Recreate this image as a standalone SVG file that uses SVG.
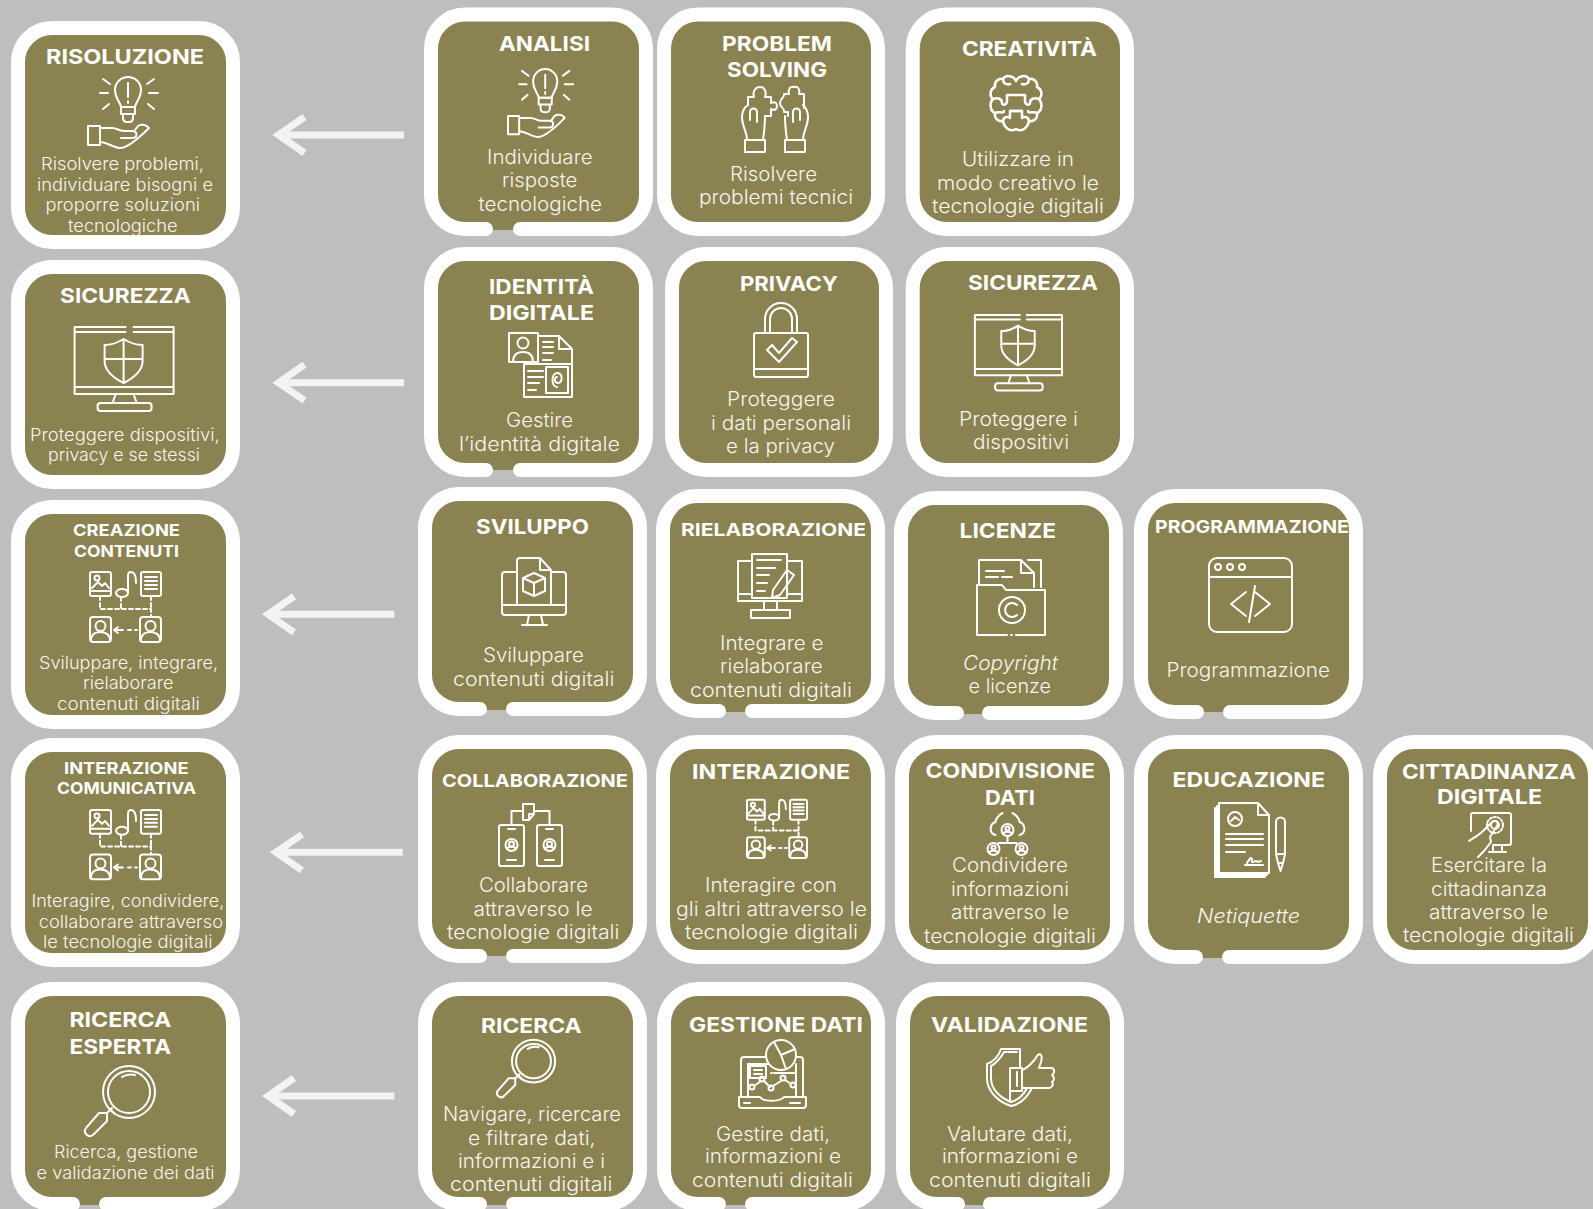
<svg xmlns="http://www.w3.org/2000/svg" width="1593" height="1209" viewBox="0 0 1593 1209">
<style>
.card{fill:#8a8250}
.ring{fill:none;stroke:#fff;stroke-width:14;stroke-linecap:round}
.t{font-family:"Inter","Liberation Sans",sans-serif;font-weight:700;font-size:20.5px;fill:#fff}
.ts{font-size:17.5px}
.tx{font-size:16px}
.b{font-family:"Inter","Liberation Sans",sans-serif;font-weight:300;font-size:19.5px;fill:#f6f4ec}
.bs{font-size:17.5px}
.it{font-style:italic}
.b:not(.bs),.t:not(.tx){transform:translateY(.7px)}
.ic{fill:none;stroke:#fff;stroke-width:2;stroke-linecap:round;stroke-linejoin:round}
.ic *{vector-effect:non-scaling-stroke}
.ar{stroke:#f3f3f3;stroke-width:7;fill:none;marker-end:url(#chev)}
</style>
<defs>
<marker id="chev" markerUnits="userSpaceOnUse" viewBox="0 0 44 44" markerWidth="44" markerHeight="44" refX="32" refY="22" orient="auto"><path d="M6 4L32 22L6 40" fill="none" stroke="#f3f3f3" stroke-width="7"/></marker>
<g id="i-bulb" class="ic"><path d="M33 31C32 25 27 23 27 14A13 13 0 0 1 53 14C53 23 48 25 47 31Z"/><path d="M33 31H47V38H33ZM35 38H45V42Q45 46 41 46H39Q35 46 35 42Z"/><path d="M40 7V21M40 25V27M12 17H20M61 17H70M15 3L22 8M66 3L59 8M15 33L21 28M66 33L60 28"/><path d="M0 50H12V69H0ZM12 52H24C29 52 31 55 36 55H44C50 55 50 62 44 62H33M12 66C18 66 27 72 32 72C38 72 50 63 61 52C58 48 53 48 50 50L47 54"/></g>
<g id="i-puzzle" class="ic"><path d="M3 54H23V66H3ZM5 54C5 46 0 40 0 31C0 25 3 21 6 19M21 54C22 46 23 40 23 30M8 34V26A3.500 3.500 0 0 1 15 26V36"/><path d="M6 19V11H12C10 5 14 1 18 1C22 1 25 5 23 11H29V17C33 15 35 17 35 20C35 23 33 25 29 23V30H23"/><path d="M43 54H63V66H43ZM61 54C61 46 66 40 66 31C66 25 63 21 61 19M45 54C44 46 43 40 43 30M51 36V26A3.500 3.500 0 0 1 58 26V34"/><path d="M52 1C48 0 46 3 47 8H42C43 12 38 12 38 17C38 22 43 22 42 26H46V30M52 1C56 0 58 3 57 8H62V22"/></g>
<g id="i-brainh"><path d="M26 6C24 1 16-1 13 4C8 3 4 7 5 12C0 14-1 21 3 24C-1 28 0 36 5 38C4 43 8 47 13 46C14 52 20 58 26 54"/><path d="M13 4C13 9 17 10 20 9M3 24C8 22 12 24 12 28C12 31 17 30 17 26V20H26M5 38C9 36 14 39 14 36M13 46C13 42 18 41 20 43V36H32"/></g>
<g id="i-brain" class="ic" style="stroke-width:2.5"><use href="#i-brainh"/><use href="#i-brainh" transform="translate(52 0) scale(-1 1)"/></g>
<g id="i-mon" class="ic"><path d="M60 1H100V68H1V1H52"/><path d="M1 6H52M60 6H100M1 61H100M42 68L39 77M60 68L63 77"/><rect x="24" y="77" width="54" height="8" rx="3"/><path d="M50 13C42 18 36 19 31 19V35C31 45 40 52 50 57C60 52 69 45 69 35V19C64 19 58 18 50 13ZM50 13V57M31 33H69"/></g>
<g id="i-id" class="ic"><rect width="29" height="29"/><circle cx="14" cy="10" r="5.500"/><path d="M4 29C4 21 9 19 14 19C19 19 24 21 24 29M29 3H50L63 16V30M50 3V16H63M34 9H44M34 14H44M34 20H44M34 27H42"/><path d="M15 31V64H63V31H15"/><rect x="37" y="34" width="22" height="26"/><path d="M48 54C42 54 42 40 48 40C54 40 54 50 49 50C45 50 45 44 48 44M19 38H34M19 44H34M19 50H30M19 57H27"/></g>
<g id="i-lock" class="ic"><path d="M11 30V16A16 16 0 0 1 43 16V30M16 30V16A11 11 0 0 1 38 16V30"/><rect y="30" width="54" height="44" rx="2"/><path d="M0 66H54M13 47L25 59L43 39L38 35L25 50L18 42Z"/></g>
<g id="i-cube" class="ic"><path d="M15 14H3A3 3 0 0 0 0 17V54A3 3 0 0 0 3 57H61A3 3 0 0 0 64 54V17A3 3 0 0 0 61 14H49M0 47H64M15 47V3A3 3 0 0 1 18 0H38L49 12V47M38 0V12H49M32 15L21 20V33L32 38L43 33V20ZM21 20L32 25L43 20M32 25V38M27 57L25 67M39 57L41 67M20 67H45"/></g>
<g id="i-edit" class="ic"><path d="M17 7H3V47H67V7H52M3 40H17M52 40H67"/><rect x="17" width="35" height="44"/><path d="M22 6H46M22 14H40M22 21H34M22 29H32M22 37H30M38 36L52 16L59 21L45 41L37 44ZM29 47V56M42 47V56"/><rect x="16" y="56" width="39" height="8"/></g>
<g id="i-folder" class="ic"><path d="M3 25V1H45L58 14V28M45 1V14H58M52 1H65V28M10 12H28M10 18H22M26 18H36"/><path d="M31 76H1V26H26L30 31H69V76H40M35 76H36"/><circle cx="36" cy="51" r="13"/><path d="M41 46A7 7 0 1 0 41 56"/></g>
<g id="i-code" class="ic"><rect x="1" y="1" width="83" height="74" rx="8"/><path d="M1 20H84M38 35L23 47L38 59M47 35L62 47L47 59M47 29L41 65"/><circle cx="10" cy="10" r="3"/><circle cx="22" cy="10" r="3"/><circle cx="34" cy="10" r="3"/></g>
<g id="i-flow" class="ic"><rect y="1" width="21" height="24" rx="2"/><path d="M0 20H21M2 17L8 11L12 15L15 12L19 17"/><circle cx="7" cy="7" r="2.500"/><ellipse cx="32" cy="22" rx="6" ry="4"/><path d="M38 21V5C38 1 40 1 41 1C45 1 46 6 46 12"/><rect x="51" y="1" width="20" height="24" rx="2"/><path d="M55 6H67M55 10H67M55 14H67M55 18H67"/><path stroke-dasharray="4 3" d="M10 25V38H61V46M31 26V38M61 25V38"/><rect y="46" width="21" height="25" rx="3"/><circle cx="10.500" cy="55" r="5"/><path d="M1 70C1 63 5 61 10 61C15 61 20 63 20 70"/><rect x="50" y="46" width="21" height="25" rx="3"/><circle cx="60.500" cy="55" r="5"/><path d="M51 70C51 63 55 61 60 61C65 61 70 63 70 70M24 59H33M24 59L28 56M24 59L28 62M38 59H41M45 59H47"/></g>
<g id="i-phone" class="ic"><rect y="23" width="25" height="41" rx="2"/><rect x="38" y="23" width="25" height="41" rx="2"/><path d="M9 27H16M47 27H54M8 58H17M46 58H55"/><circle cx="12.500" cy="43" r="6"/><circle cx="12.500" cy="42" r="2.500"/><path d="M8 47C9 44 16 44 17 47M46 47C47 44 54 44 55 47"/><circle cx="50.500" cy="43" r="6"/><circle cx="50.500" cy="42" r="2.500"/><path d="M24 2H35V12L30 18H24ZM35 12H30V18M24 9H12.500V23M35 9H50.500V23"/></g>
<g id="i-cloud" class="ic"><path d="M16 0C10 3 9 8 9 9C3 11 2 20 9 22M26 0C32 3 33 8 33 9C39 11 40 20 33 22M21 23V30M12 30H30"/><circle cx="21" cy="17" r="6"/><circle cx="7" cy="36" r="6"/><circle cx="35" cy="36" r="6"/><circle cx="21" cy="15.500" r="2"/><circle cx="7" cy="34.500" r="2"/><circle cx="35" cy="34.500" r="2"/><path d="M17 21C17 18 25 18 25 21M3 40C3 37 11 37 11 40M31 40C31 37 39 37 39 40"/></g>
<g id="i-doc" class="ic"><path d="M5 0H44L55 12V70H5ZM44 0V12H55M3 3V72H53M1 5V74H51M12 31H49M12 36H49M12 42H49M12 49H31"/><circle cx="21" cy="16" r="7"/><path d="M17 18L21 14L25 17M62 19A4.500 4.500 0 0 1 71 19V51H62ZM62 51L64 60L66.500 68L69 60L71 51M64 60H69M33 60C36 55 37 54 38 56C37 62 40 58 42 58C44 60 45 58 47 58M31 62H49"/></g>
<g id="i-touch" class="ic"><path d="M2 18V2A2 2 0 0 1 4 0H40A2 2 0 0 1 42 2V30A2 2 0 0 1 40 32H24M24 32V39M33 32V39M20 39H37"/><circle cx="26" cy="12" r="4"/><circle cx="26" cy="12" r="8" stroke-dasharray="2 2"/><path d="M0 28C6 24 10 22 14 18L23 9A3 3 0 0 1 28 13L21 24L22 29L15 38L9 44"/></g>
<g id="i-mag" class="ic"><circle cx="44" cy="27" r="26"/><circle cx="44" cy="27" r="21"/><path d="M37 12A17 17 0 0 1 50 10M25 44L30 49M21 48L14 48L1 63A5 5 0 0 0 8 70L22 56V48L27 43"/></g>
<g id="i-chart" class="ic"><path d="M28 17H6A3 3 0 0 0 3 20V57M65 57V20A3 3 0 0 0 62 17H58M10 57V24H30M58 24V57M1 57H22C25 62 42 62 46 57H68V65A3 3 0 0 1 65 68H4A3 3 0 0 1 1 65Z"/><circle cx="43" cy="15" r="15"/><path d="M43 15L36 2M43 15L57 9M43 15L48 29"/><rect x="12" y="26" width="16" height="12"/><path d="M16 30H24M16 34H24M33 33H34M36 33H58M16 46L23 41M26 41L32 47M35 46L43 41M47 40L53 44M6 63H12M52 63H62"/><circle cx="14" cy="47" r="2.500"/><circle cx="24" cy="39" r="2.500"/><circle cx="33" cy="48" r="2.500"/><circle cx="45" cy="38" r="2.500"/><circle cx="55" cy="45" r="2.500"/></g>
<g id="i-thumb" class="ic"><path d="M14 1H33V20M14 1C12 8 6 14 0 16V30C0 44 12 54 24 58C34 56 40 50 45 40M4 18C8 16 14 10 17 4H30M4 18V30C4 42 14 50 24 54C31 52 36 48 40 40M23 20H35V43H23ZM23 44V54M35 22C41 20 48 12 50 8C53 4 56 7 54 14L52 20H64C68 20 68 25 65 27C68 29 67 33 65 34C67 36 65 40 62 40H46L36 40M30 24V38"/></g>
</defs>
<rect width="1593" height="1209" fill="#bebebe"/>
<g id="connectors">
<line class="ar" x1="404" y1="135" x2="278.500" y2="135"/>
<line class="ar" x1="404" y1="382.700" x2="278.500" y2="382.700"/>
<line class="ar" x1="394.400" y1="614.300" x2="268" y2="614.300"/>
<line class="ar" x1="402.800" y1="852.300" x2="276" y2="852.300"/>
<line class="ar" x1="394.400" y1="1096" x2="268" y2="1096"/>
</g>
<g id="n-risoluzione"><rect class="card" x="20" y="30" width="212" height="212" rx="30"/><rect class="ring" x="18" y="28" width="215" height="214" rx="34"/>
<use href="#i-bulb" x="88" y="76"/>
<text class="t" x="46" y="63.500" textLength="158" lengthAdjust="spacingAndGlyphs">RISOLUZIONE</text>
<text class="b bs" x="41" y="170" textLength="163" lengthAdjust="spacingAndGlyphs">Risolvere problemi,</text>
<text class="b bs" x="37" y="190.500" textLength="176" lengthAdjust="spacingAndGlyphs">individuare bisogni e</text>
<text class="b bs" x="45.500" y="211" textLength="154.500" lengthAdjust="spacingAndGlyphs">proporre soluzioni</text>
<text class="b bs" x="68" y="231.700" textLength="109.600" lengthAdjust="spacingAndGlyphs">tecnologiche</text></g>
<g id="n-analisi"><rect class="card" x="433" y="16" width="214" height="214" rx="30"/><path class="ring" d="M520 229H612A34 34 0 0 0 646 195V48.500A34 34 0 0 0 612 14.500H465A34 34 0 0 0 431 48.500V195A34 34 0 0 0 465 229H486"/>
<use href="#i-bulb" transform="translate(508 68) scale(.93 .96)"/>
<text class="t" x="499" y="50.700" textLength="91" lengthAdjust="spacingAndGlyphs">ANALISI</text>
<text class="b" x="487" y="163" textLength="105.600" lengthAdjust="spacingAndGlyphs">Individuare</text>
<text class="b" x="502" y="186.700" textLength="75.400" lengthAdjust="spacingAndGlyphs">risposte</text>
<text class="b" x="478.500" y="210" textLength="123.500" lengthAdjust="spacingAndGlyphs">tecnologiche</text></g>
<g id="n-problem"><rect class="card" x="666" y="16" width="212" height="212" rx="30"/><rect class="ring" x="664" y="14.500" width="214" height="214.500" rx="34"/>
<use href="#i-puzzle" x="742" y="86"/>
<text class="t" x="722" y="50.700" textLength="110" lengthAdjust="spacingAndGlyphs">PROBLEM</text>
<text class="t" x="727" y="76.700" textLength="100" lengthAdjust="spacingAndGlyphs">SOLVING</text>
<text class="b" x="730" y="180" textLength="87" lengthAdjust="spacingAndGlyphs">Risolvere</text>
<text class="b" x="699" y="203" textLength="154" lengthAdjust="spacingAndGlyphs">problemi tecnici</text></g>
<g id="n-creativita"><rect class="card" x="915" y="16" width="212" height="212" rx="30"/><rect class="ring" x="912.700" y="14.500" width="214.300" height="214.500" rx="34"/>
<use href="#i-brain" x="990" y="75"/>
<text class="t" x="962" y="55" textLength="135" lengthAdjust="spacingAndGlyphs">CREATIVITÀ</text>
<text class="b" x="962" y="165.700" textLength="112" lengthAdjust="spacingAndGlyphs">Utilizzare in</text>
<text class="b" x="937" y="189.300" textLength="162" lengthAdjust="spacingAndGlyphs">modo creativo le</text>
<text class="b" x="932" y="212.700" textLength="172" lengthAdjust="spacingAndGlyphs">tecnologie digitali</text></g>
<g id="n-sicurezza-l"><rect class="card" x="20" y="268" width="212" height="214" rx="30"/><rect class="ring" x="18" y="267" width="215" height="215" rx="34"/>
<use href="#i-mon" x="73.600" y="326"/>
<text class="t" x="60" y="302.700" textLength="130.600" lengthAdjust="spacingAndGlyphs">SICUREZZA</text>
<text class="b bs" x="30" y="440.700" textLength="189.700" lengthAdjust="spacingAndGlyphs">Proteggere dispositivi,</text>
<text class="b bs" x="48" y="461" textLength="152" lengthAdjust="spacingAndGlyphs">privacy e se stessi</text></g>
<g id="n-identita"><rect class="card" x="433" y="256" width="214" height="214" rx="30"/><path class="ring" d="M520 470H612A34 34 0 0 0 646 436V288A34 34 0 0 0 612 254H465A34 34 0 0 0 431 288V436A34 34 0 0 0 465 470H486"/>
<use href="#i-id" x="509" y="333"/>
<text class="t" x="489" y="293" textLength="105" lengthAdjust="spacingAndGlyphs">IDENTITÀ</text>
<text class="t" x="489" y="319.300" textLength="105" lengthAdjust="spacingAndGlyphs">DIGITALE</text>
<text class="b" x="506" y="426.700" textLength="67" lengthAdjust="spacingAndGlyphs">Gestire</text>
<text class="b" x="459" y="450" textLength="161" lengthAdjust="spacingAndGlyphs">l’identità digitale</text></g>
<g id="n-privacy"><rect class="card" x="674" y="256" width="212" height="214" rx="30"/><rect class="ring" x="672" y="254" width="214" height="216" rx="34"/>
<use href="#i-lock" x="754" y="303"/>
<text class="t" x="740" y="290" textLength="98" lengthAdjust="spacingAndGlyphs">PRIVACY</text>
<text class="b" x="727" y="405.700" textLength="108" lengthAdjust="spacingAndGlyphs">Proteggere</text>
<text class="b" x="711" y="429" textLength="140" lengthAdjust="spacingAndGlyphs">i dati personali</text>
<text class="b" x="726" y="452.700" textLength="109" lengthAdjust="spacingAndGlyphs">e la privacy</text></g>
<g id="n-sicurezza-r"><rect class="card" x="915" y="256" width="212" height="214" rx="30"/><rect class="ring" x="912.700" y="254" width="214.300" height="216" rx="34"/>
<use href="#i-mon" transform="translate(974 314) scale(.88 .9)"/>
<text class="t" x="968" y="289" textLength="130" lengthAdjust="spacingAndGlyphs">SICUREZZA</text>
<text class="b" x="959" y="425" textLength="119" lengthAdjust="spacingAndGlyphs">Proteggere i</text>
<text class="b" x="973" y="448" textLength="96" lengthAdjust="spacingAndGlyphs">dispositivi</text></g>
<g id="n-creazione"><rect class="card" x="20" y="508" width="212" height="212" rx="30"/><rect class="ring" x="18" y="507" width="215" height="215" rx="34"/>
<use href="#i-flow" x="90" y="571"/>
<text class="t tx" x="73" y="536" textLength="107" lengthAdjust="spacingAndGlyphs">CREAZIONE</text>
<text class="t tx" x="74" y="557" textLength="105" lengthAdjust="spacingAndGlyphs">CONTENUTI</text>
<text class="b bs" x="39" y="669" textLength="179" lengthAdjust="spacingAndGlyphs">Sviluppare, integrare,</text>
<text class="b bs" x="83" y="689.300" textLength="90.400" lengthAdjust="spacingAndGlyphs">rielaborare</text>
<text class="b bs" x="57" y="710" textLength="143" lengthAdjust="spacingAndGlyphs">contenuti digitali</text></g>
<g id="n-sviluppo"><rect class="card" x="427" y="496" width="213" height="214" rx="30"/><path class="ring" d="M513 709H606A34 34 0 0 0 640 675V528A34 34 0 0 0 606 494H459A34 34 0 0 0 425 528V675A34 34 0 0 0 459 709H480"/>
<use href="#i-cube" x="502" y="558"/>
<text class="t" x="476" y="533.300" textLength="113" lengthAdjust="spacingAndGlyphs">SVILUPPO</text>
<text class="b" x="483" y="661.700" textLength="101" lengthAdjust="spacingAndGlyphs">Sviluppare</text>
<text class="b" x="453" y="685" textLength="161.500" lengthAdjust="spacingAndGlyphs">contenuti digitali</text></g>
<g id="n-rielaborazione"><rect class="card" x="665" y="498" width="212" height="214" rx="30"/><path class="ring" d="M752 711H844A34 34 0 0 0 878 677V530A34 34 0 0 0 844 496H697A34 34 0 0 0 663 530V677A34 34 0 0 0 697 711H719"/>
<use href="#i-edit" x="735" y="554"/>
<text class="t ts" x="681" y="535" textLength="185" lengthAdjust="spacingAndGlyphs">RIELABORAZIONE</text>
<text class="b" x="720" y="649" textLength="103.500" lengthAdjust="spacingAndGlyphs">Integrare e</text>
<text class="b" x="720" y="672.700" textLength="102.600" lengthAdjust="spacingAndGlyphs">rielaborare</text>
<text class="b" x="690" y="696" textLength="162" lengthAdjust="spacingAndGlyphs">contenuti digitali</text></g>
<g id="n-licenze"><rect class="card" x="903" y="500" width="212" height="214" rx="30"/><path class="ring" d="M989 713H1082A34 34 0 0 0 1116 679V532A34 34 0 0 0 1082 498H935A34 34 0 0 0 901 532V679A34 34 0 0 0 935 713H957"/>
<use href="#i-folder" x="976" y="559"/>
<text class="t" x="959.500" y="537" textLength="96.500" lengthAdjust="spacingAndGlyphs">LICENZE</text>
<text class="b it" x="963" y="669" textLength="95" lengthAdjust="spacingAndGlyphs">Copyright</text>
<text class="b" x="968.600" y="692" textLength="82.400" lengthAdjust="spacingAndGlyphs">e licenze</text></g>
<g id="n-programmazione"><rect class="card" x="1143" y="498" width="212" height="214" rx="30"/><path class="ring" d="M1230 712H1322A34 34 0 0 0 1356 678V530A34 34 0 0 0 1322 496H1175A34 34 0 0 0 1141 530V678A34 34 0 0 0 1175 712H1197"/>
<use href="#i-code" x="1208" y="557"/>
<text class="t ts" x="1155" y="532" textLength="194" lengthAdjust="spacingAndGlyphs">PROGRAMMAZIONE</text>
<text class="b" x="1166.500" y="676.700" textLength="163.500" lengthAdjust="spacingAndGlyphs">Programmazione</text></g>
<g id="n-interazione-com"><rect class="card" x="20" y="746" width="212" height="212" rx="30"/><rect class="ring" x="18" y="745" width="215" height="215" rx="34"/>
<use href="#i-flow" transform="translate(90 809) scale(1 .99)"/>
<text class="t tx" x="64" y="774" textLength="124.500" lengthAdjust="spacingAndGlyphs">INTERAZIONE</text>
<text class="t tx" x="57" y="794.300" textLength="139" lengthAdjust="spacingAndGlyphs">COMUNICATIVA</text>
<text class="b bs" x="31.500" y="906.700" textLength="192.800" lengthAdjust="spacingAndGlyphs">Interagire, condividere,</text>
<text class="b bs" x="38.700" y="927.700" textLength="184.300" lengthAdjust="spacingAndGlyphs">collaborare attraverso</text>
<text class="b bs" x="43" y="947.700" textLength="169.500" lengthAdjust="spacingAndGlyphs">le tecnologie digitali</text></g>
<g id="n-collaborazione"><rect class="card" x="427" y="744" width="213" height="212" rx="30"/><path class="ring" d="M513 956H606A34 34 0 0 0 640 922V776A34 34 0 0 0 606 742H459A34 34 0 0 0 425 776V922A34 34 0 0 0 459 956H480"/>
<use href="#i-phone" x="499" y="802"/>
<text class="t ts" x="442" y="786.700" textLength="186" lengthAdjust="spacingAndGlyphs">COLLABORAZIONE</text>
<text class="b" x="479" y="891.700" textLength="109" lengthAdjust="spacingAndGlyphs">Collaborare</text>
<text class="b" x="473.500" y="915" textLength="119" lengthAdjust="spacingAndGlyphs">attraverso le</text>
<text class="b" x="447" y="938" textLength="172.500" lengthAdjust="spacingAndGlyphs">tecnologie digitali</text></g>
<g id="n-interazione"><rect class="card" x="665" y="744" width="212" height="212" rx="30"/><rect class="ring" x="663" y="742" width="215" height="215" rx="34"/>
<use href="#i-flow" transform="translate(747 799) scale(.845 .83)"/>
<text class="t" x="692" y="778" textLength="158" lengthAdjust="spacingAndGlyphs">INTERAZIONE</text>
<text class="b" x="705" y="891.700" textLength="132" lengthAdjust="spacingAndGlyphs">Interagire con</text>
<text class="b" x="676" y="915" textLength="191" lengthAdjust="spacingAndGlyphs">gli altri attraverso le</text>
<text class="b" x="685" y="938" textLength="173" lengthAdjust="spacingAndGlyphs">tecnologie digitali</text></g>
<g id="n-condivisione"><rect class="card" x="904" y="744" width="212" height="212" rx="30"/><rect class="ring" x="902" y="742" width="215" height="215" rx="34"/>
<use href="#i-cloud" x="986.500" y="813"/>
<text class="t" x="925.500" y="777.700" textLength="169.500" lengthAdjust="spacingAndGlyphs">CONDIVISIONE</text>
<text class="t" x="985" y="804.300" textLength="50" lengthAdjust="spacingAndGlyphs">DATI</text>
<text class="b" x="952" y="871.700" textLength="116" lengthAdjust="spacingAndGlyphs">Condividere</text>
<text class="b" x="951" y="895" textLength="118" lengthAdjust="spacingAndGlyphs">informazioni</text>
<text class="b" x="951" y="918.700" textLength="118" lengthAdjust="spacingAndGlyphs">attraverso le</text>
<text class="b" x="924" y="942.300" textLength="172" lengthAdjust="spacingAndGlyphs">tecnologie digitali</text></g>
<g id="n-educazione"><rect class="card" x="1143" y="744" width="212" height="214" rx="30"/><path class="ring" d="M1229 957H1322A34 34 0 0 0 1356 923V776A34 34 0 0 0 1322 742H1175A34 34 0 0 0 1141 776V923A34 34 0 0 0 1175 957H1196"/>
<use href="#i-doc" x="1214" y="803"/>
<text class="t" x="1172.500" y="786" textLength="152.500" lengthAdjust="spacingAndGlyphs">EDUCAZIONE</text>
<text class="b it" x="1197" y="922.300" textLength="103" lengthAdjust="spacingAndGlyphs">Netiquette</text></g>
<g id="n-cittadinanza"><rect class="card" x="1382" y="744" width="212" height="212" rx="30"/><rect class="ring" x="1380" y="742" width="215" height="215" rx="34"/>
<use href="#i-touch" x="1469" y="813"/>
<text class="t" x="1402" y="778.300" textLength="174" lengthAdjust="spacingAndGlyphs">CITTADINANZA</text>
<text class="t" x="1437" y="803.300" textLength="105" lengthAdjust="spacingAndGlyphs">DIGITALE</text>
<text class="b" x="1431" y="871.700" textLength="116" lengthAdjust="spacingAndGlyphs">Esercitare la</text>
<text class="b" x="1431" y="895" textLength="116" lengthAdjust="spacingAndGlyphs">cittadinanza</text>
<text class="b" x="1429" y="918.700" textLength="119" lengthAdjust="spacingAndGlyphs">attraverso le</text>
<text class="b" x="1403" y="941.700" textLength="171" lengthAdjust="spacingAndGlyphs">tecnologie digitali</text></g>
<g id="n-ricerca-esperta"><rect class="card" x="20" y="991" width="212" height="214" rx="30"/><path class="ring" d="M106 1204H199A34 34 0 0 0 233 1170V1023A34 34 0 0 0 199 989H52A34 34 0 0 0 18 1023V1170A34 34 0 0 0 52 1204H73"/>
<use href="#i-mag" x="85" y="1065"/>
<text class="t" x="69.400" y="1026.700" textLength="101.900" lengthAdjust="spacingAndGlyphs">RICERCA</text>
<text class="t" x="69.400" y="1053.300" textLength="101.900" lengthAdjust="spacingAndGlyphs">ESPERTA</text>
<text class="b bs" x="54" y="1158.300" textLength="144" lengthAdjust="spacingAndGlyphs">Ricerca, gestione</text>
<text class="b bs" x="36.600" y="1178.700" textLength="178" lengthAdjust="spacingAndGlyphs">e validazione dei dati</text></g>
<g id="n-ricerca"><rect class="card" x="427" y="991" width="213" height="214" rx="30"/><path class="ring" d="M513 1204H606A34 34 0 0 0 640 1170V1023A34 34 0 0 0 606 989H459A34 34 0 0 0 425 1023V1170A34 34 0 0 0 459 1204H480"/>
<use href="#i-mag" transform="translate(497 1039) scale(.83 .82)"/>
<text class="t" x="481" y="1032.300" textLength="100.600" lengthAdjust="spacingAndGlyphs">RICERCA</text>
<text class="b" x="443" y="1120.700" textLength="178" lengthAdjust="spacingAndGlyphs">Navigare, ricercare</text>
<text class="b" x="468" y="1144" textLength="127.500" lengthAdjust="spacingAndGlyphs">e filtrare dati,</text>
<text class="b" x="458" y="1167.300" textLength="147" lengthAdjust="spacingAndGlyphs">informazioni e i</text>
<text class="b" x="450" y="1190.700" textLength="162.400" lengthAdjust="spacingAndGlyphs">contenuti digitali</text></g>
<g id="n-gestione"><rect class="card" x="665" y="991" width="212" height="214" rx="30"/><path class="ring" d="M752 1204H844A34 34 0 0 0 878 1170V1023A34 34 0 0 0 844 989H698A34 34 0 0 0 664 1023V1170A34 34 0 0 0 698 1204H719"/>
<use href="#i-chart" x="738" y="1040"/>
<text class="t" x="689" y="1031.700" textLength="174" lengthAdjust="spacingAndGlyphs">GESTIONE DATI</text>
<text class="b" x="716" y="1140" textLength="114" lengthAdjust="spacingAndGlyphs">Gestire dati,</text>
<text class="b" x="705" y="1162.700" textLength="136" lengthAdjust="spacingAndGlyphs">informazioni e</text>
<text class="b" x="692" y="1186" textLength="161" lengthAdjust="spacingAndGlyphs">contenuti digitali</text></g>
<g id="n-validazione"><rect class="card" x="904" y="991" width="212" height="214" rx="30"/><path class="ring" d="M990 1204H1083A34 34 0 0 0 1117 1170V1023A34 34 0 0 0 1083 989H937A34 34 0 0 0 903 1023V1170A34 34 0 0 0 937 1204H958"/>
<use href="#i-thumb" x="987" y="1048"/>
<text class="t" x="931" y="1031.700" textLength="157" lengthAdjust="spacingAndGlyphs">VALIDAZIONE</text>
<text class="b" x="947" y="1140" textLength="126" lengthAdjust="spacingAndGlyphs">Valutare dati,</text>
<text class="b" x="942" y="1162.700" textLength="136" lengthAdjust="spacingAndGlyphs">informazioni e</text>
<text class="b" x="929" y="1186" textLength="162" lengthAdjust="spacingAndGlyphs">contenuti digitali</text></g>
</svg>
